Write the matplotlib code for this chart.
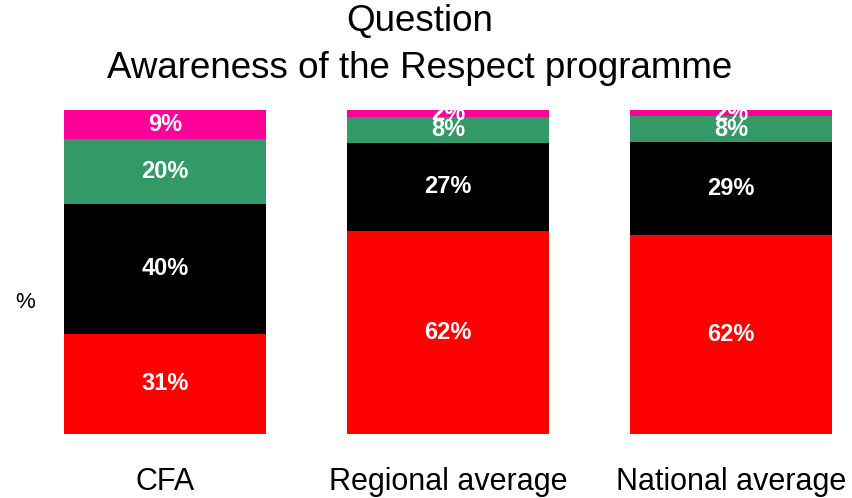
import matplotlib
matplotlib.use("Agg")
import matplotlib.pyplot as plt
import numpy as np

plt.rcParams['font.family'] = ['Liberation Sans', 'DejaVu Sans']

categories = ["CFA", "Regional average", "National average"]
series_names = ["Red", "Black", "Green", "Pink"]
red_vals = [31, 62, 62]
black_vals = [40, 27, 29]
green_vals = [20, 8, 8]
pink_vals = [9, 2, 2]
colors = ["#FF0000", "#000000", "#339966", "#FF0099"]

series = [red_vals, black_vals, green_vals, pink_vals]
data = np.array(series, dtype=float)
totals = data.sum(axis=0)
norm = data / totals * 100

fig = plt.figure(figsize=(8.52, 4.98), dpi=100)
W, H = 852, 498
left, right, top, bottom = 64, 832, 110, 434
ax = fig.add_axes([left / W, (H - bottom) / H, (right - left) / W, (bottom - top) / H])

x = np.arange(len(categories))
width = 0.715
base = np.zeros(len(categories))
for vals, nvals, c in zip(series, norm, colors):
    ax.bar(x, nvals, width, bottom=base, color=c, edgecolor='none')
    for xi, b, h, v in zip(x, base, nvals, vals):
        ax.text(xi, b + h / 2, f"{v}%", ha='center', va='center',
                color='white', fontsize=17, fontweight='bold')
    base += nvals

ax.set_xlim(-width / 2, len(categories) - 1 + width / 2)
ax.set_ylim(0, 100)
ax.set_xticks(x)
ax.set_xticklabels(categories, fontsize=22)
ax.tick_params(axis='x', length=0, pad=24)
ax.set_yticks([])
for s in ax.spines.values():
    s.set_visible(False)

fig.text(25 / W, 1 - 302 / H, "%", ha='center', va='center', fontsize=16)
fig.text(420 / W, 1 - 21 / H, "Question", ha='center', va='center', fontsize=26.5)
fig.text(420 / W, 1 - 68 / H, "Awareness of the Respect programme", ha='center', va='center', fontsize=26.5)

fig.savefig("out.png", dpi=100)
